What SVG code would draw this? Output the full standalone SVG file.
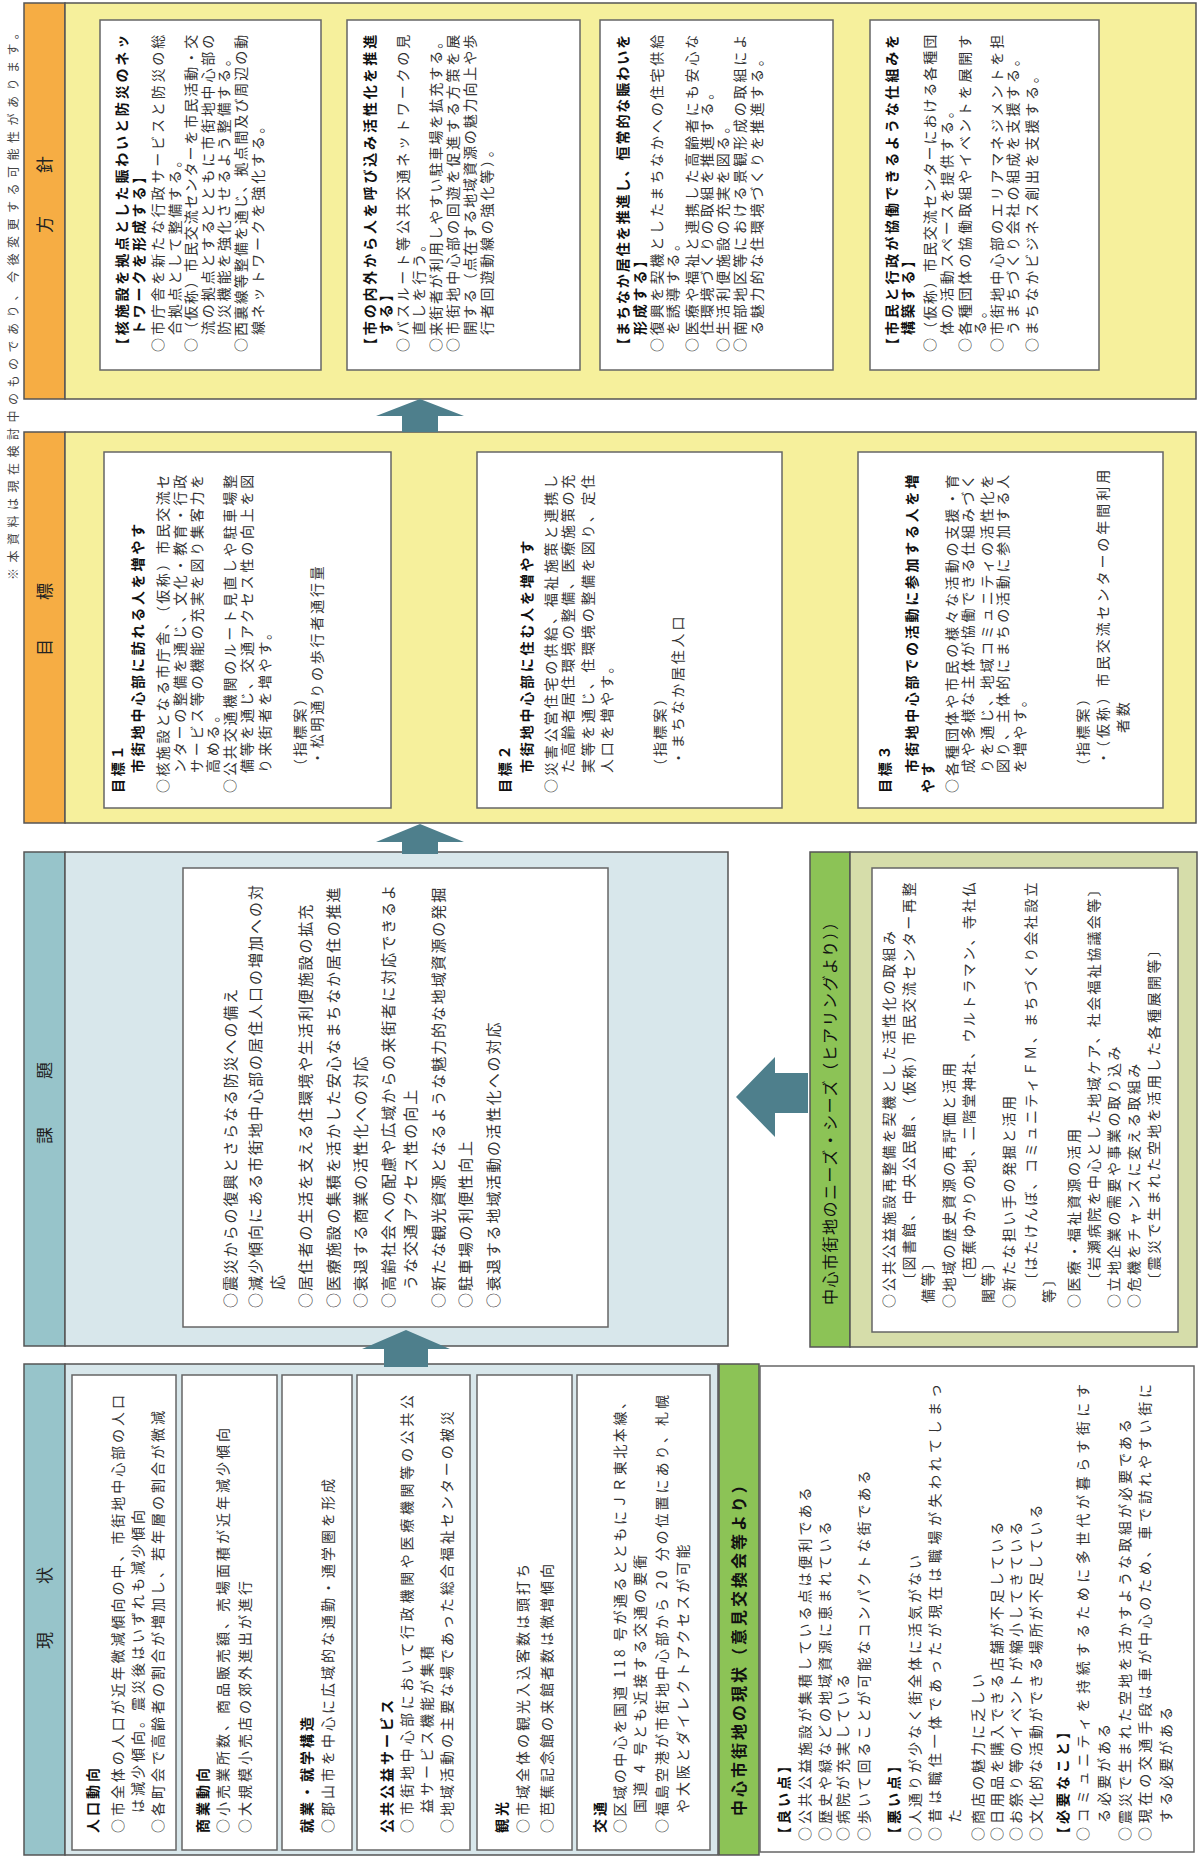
<svg xmlns="http://www.w3.org/2000/svg" width="1198" height="1856" viewBox="0 0 1198 1856">
<style>
text{font-family:"Noto Sans CJK JP","Noto Sans",sans-serif;fill:#333}
.t{font-size:14px;letter-spacing:2.8px}
.g{font-size:14px;letter-spacing:3px}
.k{font-size:15px;letter-spacing:1.9px}
.n{font-size:14px;letter-spacing:2.5px}
.b{font-weight:bold;fill:#111}
.h{font-size:17px;fill:#222}
.note{font-size:12px;letter-spacing:5.5px;fill:#444}
.box{fill:#fff;stroke:#666;stroke-width:1.5}
.yel{fill:#F6F09C;stroke:#555;stroke-width:1.5}
.blu{fill:#D8E7EB;stroke:#555;stroke-width:1.5}
.hdo{fill:#F6AD44;stroke:#555;stroke-width:1.5}
.hdb{fill:#97C4CA;stroke:#555;stroke-width:1.5}
.grn{fill:#8CC356;stroke:#555;stroke-width:1.5}
.olv{fill:#D6DDAA;stroke:#555;stroke-width:1.5}
.arr{fill:#4E7F8C}
</style>
<rect width="1198" height="1856" fill="#fff"/>
<g transform="translate(0,1856) rotate(-90)">
<text class="note" x="1276" y="18">※本資料は現在検討中のものであり、今後変更する可能性があります。</text>

<g id="genjo">
<rect class="hdb" x="1" y="24" width="491" height="41"/>
<text class="h"><tspan x="207" y="51">現</tspan><tspan x="272" y="51">状</tspan></text>
<rect class="blu" x="1" y="65" width="491" height="653"/>
</g>
<g id="jinko">
<rect class="box" x="6" y="72" width="475" height="104"/>
<text class="g b" x="23" y="98">人口動向</text>
<text class="g" x="23" y="123" textLength="441" lengthAdjust="spacing">○市全体の人口が近年微減傾向の中、市街地中心部の人口</text>
<text class="g" x="43" y="143">は減少傾向。震災後はいずれも減少傾向</text>
<text class="g" x="23" y="163">○各町会で高齢者の割合が増加し、若年層の割合が微減</text>
</g>
<g id="shogyo">
<rect class="box" x="6" y="182" width="475" height="95"/>
<text class="g b" x="23" y="208">商業動向</text>
<text class="g" x="23" y="228">○小売業所数、商品販売額、売場面積が近年減少傾向</text>
<text class="g" x="23" y="250">○大規模小売店の郊外進出が進行</text>
</g>
<g id="shugyo">
<rect class="box" x="6" y="282" width="475" height="70"/>
<text class="g b" x="23" y="312">就業・就学構造</text>
<text class="g" x="23" y="333">○郡山市を中心に広域的な通勤・通学圏を形成</text>
</g>
<g id="kokyo">
<rect class="box" x="6" y="357" width="475" height="113"/>
<text class="g b" x="23" y="392">公共公益サービス</text>
<text class="g" x="23" y="412" textLength="441" lengthAdjust="spacing">○市街地中心部において行政機関や医療機関等の公共公</text>
<text class="g" x="43" y="432">益サービス機能が集積</text>
<text class="g" x="23" y="452">○地域活動の主要な場であった総合福祉センターの被災</text>
</g>
<g id="kanko">
<rect class="box" x="6" y="477" width="475" height="95"/>
<text class="g b" x="23" y="507">観光</text>
<text class="g" x="23" y="528">○市域全体の観光入込客数は頭打ち</text>
<text class="g" x="23" y="552">○芭蕉記念館の来館者数は微増傾向</text>
</g>
<g id="kotsu">
<rect class="box" x="6" y="577" width="475" height="133"/>
<text class="g b" x="23" y="605">交通</text>
<text class="g" x="23" y="625" textLength="441" lengthAdjust="spacing">○区域の中心を国道 118 号が通るとともにＪＲ東北本線、</text>
<text class="g" x="43" y="645">国道 4 号とも近接する交通の要衝</text>
<text class="g" x="23" y="667" textLength="441" lengthAdjust="spacing">○福島空港が市街地中心部から 20 分の位置にあり、札幌</text>
<text class="g" x="43" y="688">や大阪とダイレクトアクセスが可能</text>
</g>
<g id="chushin-genjo">
<rect class="grn" x="1" y="719" width="491" height="40"/>
<text class="b" style="font-size:16px;letter-spacing:3px" x="40" y="745">中心市街地の現状（意見交換会等より）</text>
<rect class="box" x="4" y="760" width="486" height="434"/>
<text class="g b" x="15" y="789">【良い点】</text>
<text class="g" x="15" y="810">○公共公益施設が集積している点は便利である</text>
<text class="g" x="15" y="830">○歴史や緑などの地域資源に恵まれている</text>
<text class="g" x="15" y="848">○病院が充実している</text>
<text class="g" x="15" y="869">○歩いて回ることが可能なコンパクトな街である</text>
<text class="g b" x="15" y="899">【悪い点】</text>
<text class="g" x="15" y="920">○人通りが少なく街全体に活気がない</text>
<text class="g" x="15" y="940" textLength="460" lengthAdjust="spacing">○昔は職住一体であったが現在は職場が失われてしまっ</text>
<text class="g" x="33" y="960">た</text>
<text class="g" x="15" y="983">○商店の魅力に乏しい</text>
<text class="g" x="15" y="1002">○日用品を購入できる店舗が不足している</text>
<text class="g" x="15" y="1021">○お祭り等のイベントが縮小してきている</text>
<text class="g" x="15" y="1041">○文化的な活動ができる場所が不足している</text>
<text class="g b" x="15" y="1068">【必要なこと】</text>
<text class="g" x="15" y="1088" textLength="460" lengthAdjust="spacing">○コミュニティを持続するために多世代が暮らす街にす</text>
<text class="g" x="33" y="1109">る必要がある</text>
<text class="g" x="15" y="1130">○震災で生まれた空地を活かすような取組が必要である</text>
<text class="g" x="15" y="1150" textLength="460" lengthAdjust="spacing">○現在の交通手段は車が中心のため、車で訪れやすい街に</text>
<text class="g" x="33" y="1171">する必要がある</text>
</g>

<g id="kadai">
<rect class="hdb" x="510" y="24" width="494" height="41"/>
<text class="h"><tspan x="712" y="51">課</tspan><tspan x="777" y="51">題</tspan></text>
<rect class="blu" x="510" y="65" width="494" height="663"/>
<rect class="box" x="529" y="183" width="459" height="425"/>
<text class="k" x="548" y="236">○震災からの復興とさらなる防災への備え</text>
<text class="k" x="548" y="261" textLength="425" lengthAdjust="spacing">○減少傾向にある市街地中心部の居住人口の増加への対</text>
<text class="k" x="566" y="283">応</text>
<text class="k" x="548" y="311">○居住者の生活を支える住環境や生活利便施設の拡充</text>
<text class="k" x="548" y="339">○医療施設の集積を活かした安心なまちなか居住の推進</text>
<text class="k" x="548" y="366">○衰退する商業の活性化への対応</text>
<text class="k" x="548" y="394" textLength="425" lengthAdjust="spacing">○高齢社会への配慮や広域からの来街者に対応できるよ</text>
<text class="k" x="566" y="416">うな交通アクセス性の向上</text>
<text class="k" x="548" y="444">○新たな観光資源となるような魅力的な地域資源の発掘</text>
<text class="k" x="548" y="471">○駐車場の利便性向上</text>
<text class="k" x="548" y="499">○衰退する地域活動の活性化への対応</text>
</g>

<g id="needs">
<rect class="grn" x="509" y="810" width="495" height="40"/>
<text style="font-size:16px;letter-spacing:1.5px;fill:#111" x="551" y="836">中心市街地のニーズ・シーズ（ヒアリングより））</text>
<rect class="olv" x="509" y="850" width="495" height="347"/>
<rect class="box" x="524" y="872" width="464" height="306"/>
<text class="n" x="548" y="894">○公共公益施設再整備を契機とした活性化の取組み</text>
<text class="n" x="569" y="914" textLength="407" lengthAdjust="spacing">〔図書館、中央公民館、（仮称）市民交流センター再整</text>
<text class="n" x="553" y="933">備等〕</text>
<text class="n" x="548" y="954">○地域の歴史資源の再評価と活用</text>
<text class="n" x="569" y="974" textLength="407" lengthAdjust="spacing">〔芭蕉ゆかりの地、二階堂神社、ウルトラマン、寺社仏</text>
<text class="n" x="553" y="993">閣等〕</text>
<text class="n" x="548" y="1014">○新たな担い手の発掘と活用</text>
<text class="n" x="569" y="1036" textLength="407" lengthAdjust="spacing">〔はたけんぼ、コミュニティＦＭ、まちづくり会社設立</text>
<text class="n" x="553" y="1054">等〕</text>
<text class="n" x="548" y="1079">○医療・福祉資源の活用</text>
<text class="n" x="569" y="1099" textLength="407" lengthAdjust="spacing">〔岩瀬病院を中心とした地域ケア、社会福祉協議会等〕</text>
<text class="n" x="548" y="1119">○立地企業の需要や事業の取り込み</text>
<text class="n" x="548" y="1139">○危機をチャンスに変える取組み</text>
<text class="n" x="569" y="1159">〔震災で生まれた空地を活用した各種展開等〕</text>
</g>

<g id="mokuhyo">
<rect class="hdo" x="1033" y="24" width="391" height="41"/>
<text class="h"><tspan x="1200" y="51">目</tspan><tspan x="1256" y="51">標</tspan></text>
<rect class="yel" x="1033" y="65" width="391" height="1131"/>
</g>
<g id="mokuhyo1">
<rect class="box" x="1048" y="104" width="356" height="287"/>
<text class="t b" x="1063" y="123">目標１</text>
<text class="t b" x="1083" y="143">市街地中心部に訪れる人を増やす</text>
<text class="t" x="1063" y="168" textLength="321" lengthAdjust="spacing">○核施設となる市庁舎、（仮称）市民交流セ</text>
<text class="t" x="1083" y="185" textLength="301" lengthAdjust="spacing">ンターの整備を通じ、文化・教育・行政</text>
<text class="t" x="1083" y="202" textLength="301" lengthAdjust="spacing">サービス等の機能の充実を図り集客力を</text>
<text class="t" x="1083" y="218">高める。</text>
<text class="t" x="1063" y="235" textLength="321" lengthAdjust="spacing">○公共交通機関のルート見直しや駐車場整</text>
<text class="t" x="1083" y="252" textLength="301" lengthAdjust="spacing">備等を通じ、交通アクセス性の向上を図</text>
<text class="t" x="1083" y="270">り来街者を増やす。</text>
<text class="t" x="1083" y="305">（指標案）</text>
<text class="t" x="1091" y="322">・松明通りの歩行者通行量</text>
</g>
<g id="mokuhyo2">
<rect class="box" x="1048" y="477" width="356" height="305"/>
<text class="t b" x="1063" y="510">目標２</text>
<text class="t b" x="1083" y="532">市街地中心部に住む人を増やす</text>
<text class="t" x="1063" y="556" textLength="321" lengthAdjust="spacing">○災害公営住宅の供給、福祉施策と連携し</text>
<text class="t" x="1083" y="573" textLength="301" lengthAdjust="spacing">た高齢者居住環境の整備、医療施策の充</text>
<text class="t" x="1083" y="593" textLength="301" lengthAdjust="spacing">実等を通じ、住環境の整備を図り、定住</text>
<text class="t" x="1083" y="612">人口を増やす。</text>
<text class="t" x="1083" y="665">（指標案）</text>
<text class="t" x="1091" y="683">・まちなか居住人口</text>
</g>
<g id="mokuhyo3">
<rect class="box" x="1048" y="858" width="356" height="305"/>
<text class="t b" x="1063" y="890">目標３</text>
<text class="t b" x="1083" y="917" textLength="301" lengthAdjust="spacing">市街地中心部での活動に参加する人を増</text>
<text class="t b" x="1063" y="933">やす</text>
<text class="t" x="1063" y="957" textLength="321" lengthAdjust="spacing">○各種団体や市民の様々な活動の支援・育</text>
<text class="t" x="1083" y="973" textLength="301" lengthAdjust="spacing">成や多様な主体が協働できる仕組みづく</text>
<text class="t" x="1083" y="992" textLength="301" lengthAdjust="spacing">りを通じ、地域コミュニティの活性化を</text>
<text class="t" x="1083" y="1008" textLength="301" lengthAdjust="spacing">図り、主体的にまちの活動に参加する人</text>
<text class="t" x="1083" y="1025">を増やす。</text>
<text class="t" x="1083" y="1088">（指標案）</text>
<text class="t" x="1091" y="1108" textLength="298" lengthAdjust="spacing">・（仮称）市民交流センターの年間利用</text>
<text class="t" x="1123" y="1128">者数</text>
</g>

<g id="hoshin">
<rect class="hdo" x="1457" y="24" width="396" height="41"/>
<text class="h"><tspan x="1623" y="51">方</tspan><tspan x="1683" y="51">針</tspan></text>
<rect class="yel" x="1457" y="65" width="396" height="1131"/>
</g>
<g id="hoshin1">
<rect class="box" x="1486" y="100" width="350" height="221"/>
<text class="t b" x="1504" y="127" textLength="320" lengthAdjust="spacing">【核施設を拠点とした賑わいと防災のネッ</text>
<text class="t b" x="1521" y="144">トワークを形成する】</text>
<text class="t" x="1504" y="163" textLength="320" lengthAdjust="spacing">○市庁舎を新たな行政サービスと防災の総</text>
<text class="t" x="1521" y="180">合拠点として整備する。</text>
<text class="t" x="1504" y="196" textLength="320" lengthAdjust="spacing">○（仮称）市民交流センターを市民活動・交</text>
<text class="t" x="1521" y="213" textLength="303" lengthAdjust="spacing">流の拠点とするとともに市街地中心部の</text>
<text class="t" x="1521" y="229">防災機能を強化させるよう整備する。</text>
<text class="t" x="1504" y="246" textLength="320" lengthAdjust="spacing">○西裏線等整備を通じ、拠点間及び周辺の動</text>
<text class="t" x="1521" y="263">線ネットワークを強化する。</text>
</g>
<g id="hoshin2">
<rect class="box" x="1486" y="347" width="350" height="233"/>
<text class="t b" x="1504" y="375" textLength="320" lengthAdjust="spacing">【市の内外から人を呼び込み活性化を推進</text>
<text class="t b" x="1521" y="391">する】</text>
<text class="t" x="1504" y="408" textLength="320" lengthAdjust="spacing">○バスルート等公共交通ネットワークの見</text>
<text class="t" x="1521" y="424">直しを行う。</text>
<text class="t" x="1504" y="441" textLength="320" lengthAdjust="spacing">○来街者が利用しやすい駐車場を拡充する。</text>
<text class="t" x="1504" y="458" textLength="320" lengthAdjust="spacing">○市街地中心部の回遊を促進する方策を展</text>
<text class="t" x="1521" y="475" textLength="303" lengthAdjust="spacing">開する（点在する地域資源の魅力向上や歩</text>
<text class="t" x="1521" y="492">行者回遊動線の強化等）。</text>
</g>
<g id="hoshin3">
<rect class="box" x="1486" y="600" width="350" height="233"/>
<text class="t b" x="1504" y="628" textLength="320" lengthAdjust="spacing">【まちなか居住を推進し、恒常的な賑わいを</text>
<text class="t b" x="1521" y="645">形成する】</text>
<text class="t" x="1504" y="662" textLength="320" lengthAdjust="spacing">○復興を契機としたまちなかへの住宅供給</text>
<text class="t" x="1521" y="678">を誘導する。</text>
<text class="t" x="1504" y="697" textLength="320" lengthAdjust="spacing">○医療や福祉と連携した高齢者にも安心な</text>
<text class="t" x="1521" y="712">住環境づくりの取組を推進する。</text>
<text class="t" x="1504" y="728">○生活利便施設の充実を図る。</text>
<text class="t" x="1504" y="745" textLength="320" lengthAdjust="spacing">○南部地区等における景観形成の取組によ</text>
<text class="t" x="1521" y="762">る魅力的な住環境づくりを推進する。</text>
</g>
<g id="hoshin4">
<rect class="box" x="1486" y="870" width="350" height="229"/>
<text class="t b" x="1504" y="897" textLength="320" lengthAdjust="spacing">【市民と行政が協働できるような仕組みを</text>
<text class="t b" x="1521" y="913">構築する】</text>
<text class="t" x="1504" y="935" textLength="320" lengthAdjust="spacing">○（仮称）市民交流センターにおける各種団</text>
<text class="t" x="1521" y="952">体の活動スペースを提供する。</text>
<text class="t" x="1504" y="970" textLength="320" lengthAdjust="spacing">○各種団体の協働取組やイベントを展開す</text>
<text class="t" x="1521" y="985">る。</text>
<text class="t" x="1504" y="1002" textLength="320" lengthAdjust="spacing">○市街地中心部のエリアマネジメントを担</text>
<text class="t" x="1521" y="1018">うまちづくり会社の組成を支援する。</text>
<text class="t" x="1504" y="1037">○まちなかビジネス創出を支援する。</text>
</g>

<g id="connectors">
<polygon class="arr" points="489,384 507,384 507,362 526,406 507,450 507,428 489,428"/>
<polygon class="arr" points="1002,402 1014,402 1014,376 1032,420 1014,464 1014,438 1002,438"/>
<polygon class="arr" points="1424,402 1440,402 1440,376 1457,420 1440,464 1440,438 1424,438"/>
<polygon class="arr" points="743,808 743,775 719,775 759,736 799,775 783,775 783,808"/>
</g>
</g>
</svg>
